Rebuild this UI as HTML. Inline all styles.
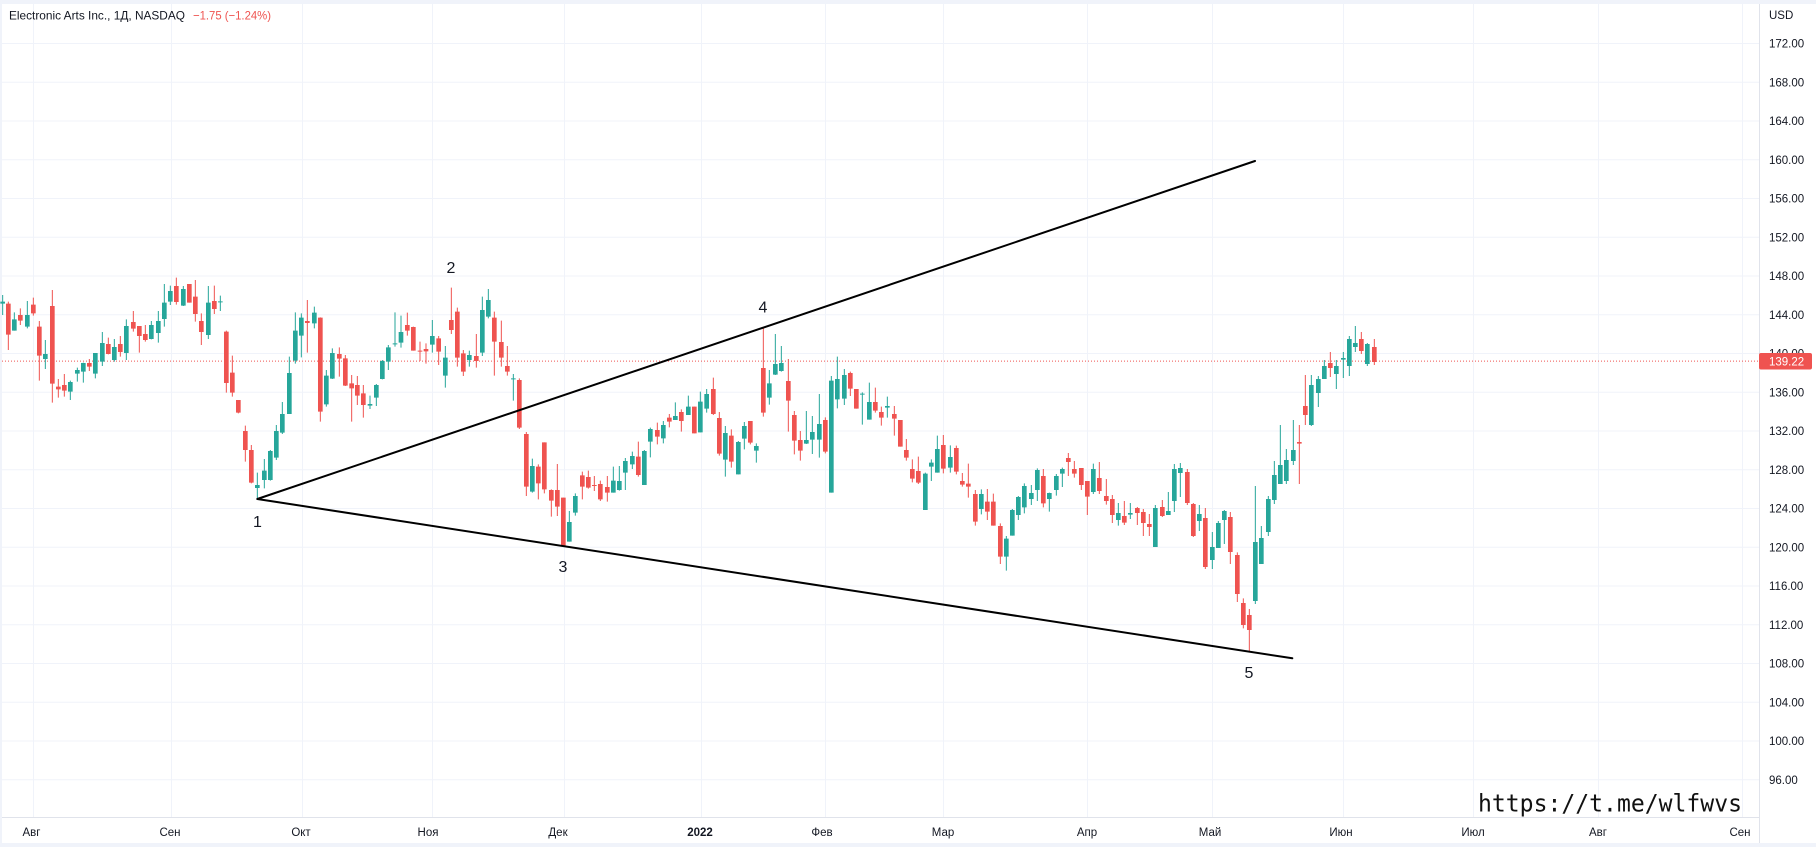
<!DOCTYPE html>
<html><head><meta charset="utf-8"><style>
html,body{margin:0;padding:0;background:#fff;}
svg{display:block;}
</style></head><body>
<svg xmlns="http://www.w3.org/2000/svg" width="1816" height="847" viewBox="0 0 1816 847">
<rect x="0" y="0" width="1816" height="847" fill="#f0f3fa"/>
<rect x="2" y="4" width="1814" height="839" fill="#ffffff"/>
<!-- gridlines -->
<g stroke="#f0f3fa" stroke-width="1">
<path d="M2 43.5H1759M2 82.25H1759M2 121H1759M2 159.75H1759M2 198.5H1759M2 237.25H1759M2 276H1759M2 314.75H1759M2 353.5H1759M2 392.25H1759M2 431H1759M2 469.75H1759M2 508.5H1759M2 547.25H1759M2 586H1759M2 624.75H1759M2 663.5H1759M2 702.25H1759M2 741H1759M2 779.75H1759"/>
<path d="M33.5 4V817M171.5 4V817M302.5 4V817M432.5 4V817M564.5 4V817M701.5 4V817M825.5 4V817M943.5 4V817M1087.5 4V817M1212.5 4V817M1343.5 4V817M1473.5 4V817M1598.5 4V817M1742.5 4V817"/>
</g>
<!-- axis borders -->
<path d="M2 817.5H1759.5M1759.5 4V843" stroke="#e0e3eb" stroke-width="1" fill="none"/>
<!-- last price dotted line -->
<path d="M2 361.1H1759" stroke="#ef5350" stroke-width="1" stroke-dasharray="1 2" fill="none"/>

<!-- candles group A -->
<g transform="translate(0,260) scale(0.333333)" fill="none">
<path stroke="#26a69a" stroke-width="3" d="M8 105V165 M43 157V212 M82 123V205 M136 240V327 M211 362V420 M232 323V365 M250 308V368 M286 279V355 M307 216V318 M343 237V305 M379 178V300 M454 183V238 M475 153V248 M493 72V200 M511 77V135 M550 78V138 M625 78V237 M661 107V153 M772 638V717 M793 597V685 M811 570V662 M829 495V600 M847 426V522 M868 290V462 M886 157V311 M904 160V292 M943 140V205 M979 330V440 M997 265V357"/>
<path stroke="#26a69a" stroke-width="14" d="M8 125V131 M43 178V212 M82 165V200 M136 282V297 M211 366V395 M232 330V341 M250 309V335 M286 279V341 M307 249V305 M343 261V300 M379 198V279 M454 195V237 M475 183V219 M493 128V177 M511 93V125 M550 87V137 M625 128V225 M661 124V127 M772 675V684 M793 632V660 M811 573V660 M829 513V593 M847 462V518 M868 339V462 M886 212V302 M904 173V227 M943 158V190 M979 347V433 M997 279V356"/>
<path stroke="#ef5350" stroke-width="3" d="M25 125V270 M61 145V195 M100 113V167 M118 183V362 M157 90V428 M175 357V413 M193 342V410 M268 297V333 M325 233V283 M361 228V290 M400 153V215 M418 198V278 M436 195V245 M529 53V134 M568 72V128 M586 60V185 M604 160V255 M643 77V162 M679 212V398 M697 287V410 M715 420V460 M736 497V605 M754 555V670 M922 120V278 M961 172V485 M1018 262V350 M1036 285V378"/>
<path stroke="#ef5350" stroke-width="14" d="M25 131V224 M61 165V182 M100 134V160 M118 200V287 M157 138V371 M175 380V388 M193 375V392 M268 309V320 M325 252V282 M361 252V276 M400 186V206 M418 198V228 M436 222V240 M529 78V126 M568 72V128 M586 110V162 M604 183V216 M643 123V147 M679 215V369 M697 338V398 M715 420V458 M736 513V570 M754 570V668 M922 183V189 M961 173V455 M1018 282V296 M1036 295V377"/>
</g>

<!-- candles group B -->
<g transform="translate(350,250) scale(0.333333)" fill="none">
<path stroke="#26a69a" stroke-width="3" d="M60 437V477 M79 402V468 M97 330V388 M115 285V360 M135 187V290 M153 197V293 M247 210V308 M286 288V413 M358 302V350 M397 140V318 M415 117V205 M490 372V452 M547 626V728 M658 783V875 M676 730V797 M790 650V728 M808 648V722 M826 624V720 M847 605V657 M883 600V705 M901 533V622 M940 513V580 M976 457V510 M1015 437V495"/>
<path stroke="#26a69a" stroke-width="14" d="M60 462V467 M79 405V443 M97 333V387 M115 292V335 M135 280V283 M153 246V278 M247 258V284 M286 323V377 M358 315V330 M397 180V308 M415 150V200 M490 385V388 M547 648V725 M658 816V875 M676 738V788 M790 692V728 M808 693V720 M826 633V668 M847 618V643 M883 603V705 M901 537V575 M940 525V565 M976 498V510 M1015 470V495"/>
<path stroke="#ef5350" stroke-width="3" d="M5 375V515 M22 378V465 M40 405V503 M172 188V257 M190 230V302 M210 275V333 M228 280V341 M266 258V345 M304 113V252 M322 173V350 M340 300V378 M379 252V353 M433 185V377 M454 212V350 M472 288V377 M508 385V537 M529 546V738 M565 643V748 M583 577V730 M604 718V800 M622 642V798 M640 743V888 M697 665V748 M715 662V716 M733 678V723 M751 692V753 M772 678V755 M865 575V680 M922 518V583 M958 492V532 M994 478V545 M1033 470V550"/>
<path stroke="#ef5350" stroke-width="14" d="M5 400V415 M22 405V437 M40 430V465 M172 225V242 M190 231V302 M210 302V305 M228 297V304 M266 265V305 M304 210V240 M322 185V323 M340 310V365 M379 318V333 M433 203V275 M454 276V323 M472 348V365 M508 390V533 M529 552V710 M565 650V700 M583 577V718 M604 720V752 M622 720V770 M640 743V888 M697 676V710 M715 681V713 M733 705V708 M751 702V748 M772 711V728 M865 620V675 M922 540V560 M958 503V515 M994 486V513 M1033 470V550"/>
</g>

<!-- candles group C -->
<g transform="translate(700,290) scale(0.333333)" fill="none">
<path stroke="#26a69a" stroke-width="3" d="M1 305V427 M20 297V368 M76 408V560 M115 453V553 M133 396V478 M169 460V518 M208 240V344 M226 132V255 M244 168V245 M319 363V462 M337 378V492 M358 312V503 M394 258V608 M412 200V355 M433 237V345 M487 307V404 M508 278V389 M562 320V383 M676 548V660 M694 508V573 M712 437V548 M751 466V548 M844 598V673 M919 738V842 M937 657V737 M955 618V690 M973 580V670 M994 585V645 M1012 535V633 M1048 608V665 M1069 552V617"/>
<path stroke="#26a69a" stroke-width="14" d="M1 335V427 M20 312V356 M76 429V509 M115 456V553 M133 408V446 M169 468V482 M208 280V323 M226 222V254 M244 219V243 M319 450V461 M337 426V449 M358 402V449 M394 272V608 M412 267V328 M433 255V326 M487 311V314 M508 336V389 M562 348V353 M676 551V660 M694 518V530 M712 477V548 M751 501V533 M844 612V657 M919 746V800 M937 660V737 M955 621V675 M973 588V652 M994 609V627 M1012 540V600 M1048 609V627 M1069 558V600"/>
<path stroke="#ef5350" stroke-width="3" d="M40 263V375 M58 366V497 M94 418V533 M151 393V463 M190 113V380 M265 207V425 M283 363V493 M301 423V512 M376 382V490 M451 245V318 M469 297V356 M526 293V368 M544 350V407 M583 348V437 M601 390V470 M619 447V512 M637 508V577 M655 500V582 M730 435V550 M769 467V553 M787 549V590 M805 521V623 M826 600V707 M862 597V690 M880 611V707 M901 700V822 M1030 537V652"/>
<path stroke="#ef5350" stroke-width="14" d="M40 297V372 M58 384V491 M94 437V515 M151 393V458 M190 234V368 M265 273V332 M283 375V452 M301 450V482 M376 390V485 M451 249V296 M469 297V356 M526 336V362 M544 366V383 M583 372V386 M601 390V470 M619 480V503 M637 537V566 M655 543V578 M730 465V536 M769 474V545 M787 573V584 M805 581V590 M826 612V695 M862 635V665 M880 635V707 M901 708V800 M1030 558V640"/>
</g>

<!-- candles group D -->
<g transform="translate(1050,300) scale(0.333333)" fill="none">
<path stroke="#26a69a" stroke-width="3" d="M37 503V561 M130 491V582 M205 609V677 M241 609V657 M316 615V741 M355 576V645 M373 492V636 M391 489V591 M448 615V693 M487 696V807 M505 663V744 M523 630V732 M616 558V912 M634 678V792 M655 588V708 M673 483V612 M691 375V552 M709 447V552 M730 360V495 M784 225V378 M805 228V321 M823 180V237 M859 180V267 M880 156V234 M898 108V228 M916 78V156 M952 129V198"/>
<path stroke="#26a69a" stroke-width="14" d="M37 507V521 M130 507V576 M205 639V660 M241 639V644 M316 624V741 M355 633V645 M373 507V603 M391 504V519 M448 642V663 M487 741V780 M505 669V744 M523 633V660 M616 726V903 M634 714V792 M655 597V696 M673 525V600 M691 495V552 M709 480V543 M730 450V483 M784 255V375 M805 237V279 M823 198V237 M859 198V222 M880 174V179 M898 117V198 M916 129V141 M952 132V192"/>
<path stroke="#ef5350" stroke-width="3" d="M55 459V528 M73 483V533 M94 504V570 M112 543V645 M148 486V582 M169 537V614 M187 585V669 M223 603V675 M262 621V675 M280 627V708 M298 642V708 M337 600V651 M412 507V615 M430 609V711 M466 624V807 M541 636V792 M562 757V906 M580 895V985 M598 927V1056 M748 375V552 M766 225V375 M841 156V231 M934 96V162 M973 117V195"/>
<path stroke="#ef5350" stroke-width="14" d="M55 474V486 M73 507V521 M94 504V555 M112 543V590 M148 534V573 M169 588V603 M187 597V645 M223 648V668 M262 624V639 M280 636V669 M298 672V681 M337 621V648 M412 516V609 M430 612V708 M466 654V801 M541 651V756 M562 765V882 M580 909V975 M598 945V990 M748 426V431 M766 318V345 M841 189V204 M934 117V153 M973 141V186"/>
</g>

<!-- trend lines -->
<path d="M257.3 499L1255 161M257.3 499L1292.3 658.3" stroke="#000" stroke-width="2" fill="none" stroke-linecap="round"/>

<!-- wave labels -->
<g font-family="Liberation Sans, Arial, sans-serif" font-size="16" fill="#131722" text-anchor="middle">
<text x="257.5" y="527">1</text>
<text x="451" y="273">2</text>
<text x="563" y="572">3</text>
<text x="763" y="312.5">4</text>
<text x="1249" y="678">5</text>
</g>

<!-- title -->
<text x="9" y="19.3" font-family="Liberation Sans, 'Noto Sans CJK SC', sans-serif" font-size="12" fill="#131722" textLength="176" lengthAdjust="spacingAndGlyphs">Electronic Arts Inc., 1Д, NASDAQ</text>
<text x="193" y="19.3" font-family="Liberation Sans, sans-serif" font-size="12" fill="#ef5350" textLength="78" lengthAdjust="spacingAndGlyphs">−1.75 (−1.24%)</text>

<!-- price axis -->
<g font-family="Liberation Sans, Arial, sans-serif" font-size="11.5" fill="#131722">
<text x="1769" y="19">USD</text>
<text x="1769" y="47.5">172.00</text>
<text x="1769" y="86.25">168.00</text>
<text x="1769" y="125">164.00</text>
<text x="1769" y="163.75">160.00</text>
<text x="1769" y="202.5">156.00</text>
<text x="1769" y="241.25">152.00</text>
<text x="1769" y="280">148.00</text>
<text x="1769" y="318.75">144.00</text>
<text x="1769" y="357.5">140.00</text>
<text x="1769" y="396.25">136.00</text>
<text x="1769" y="435">132.00</text>
<text x="1769" y="473.75">128.00</text>
<text x="1769" y="512.5">124.00</text>
<text x="1769" y="551.25">120.00</text>
<text x="1769" y="590">116.00</text>
<text x="1769" y="628.75">112.00</text>
<text x="1769" y="667.5">108.00</text>
<text x="1769" y="706.25">104.00</text>
<text x="1769" y="745">100.00</text>
<text x="1769" y="783.75">96.00</text>
</g>
<rect x="1759" y="353" width="53" height="16.5" rx="2" fill="#ef5350"/>
<text x="1769" y="365.5" font-family="Liberation Sans, Arial, sans-serif" font-size="11.5" fill="#ffffff">139.22</text>

<!-- time axis -->
<g font-family="Liberation Sans, 'Noto Sans CJK SC', sans-serif" font-size="11.5" fill="#131722" text-anchor="middle">
<text x="31.5" y="836">Авг</text>
<text x="170" y="836">Сен</text>
<text x="301" y="836">Окт</text>
<text x="428" y="836">Ноя</text>
<text x="558" y="836">Дек</text>
<text x="700" y="836" font-weight="bold">2022</text>
<text x="822" y="836">Фев</text>
<text x="943" y="836">Мар</text>
<text x="1087" y="836">Апр</text>
<text x="1210" y="836">Май</text>
<text x="1341" y="836">Июн</text>
<text x="1473" y="836">Июл</text>
<text x="1598" y="836">Авг</text>
<text x="1740" y="836">Сен</text>
</g>

<!-- watermark -->
<text x="1478" y="811.5" font-family="DejaVu Sans Mono, Liberation Mono, monospace" font-size="24" fill="#111111" textLength="264" lengthAdjust="spacingAndGlyphs">https://t.me/wlfwvs</text>
</svg>
</body></html>
